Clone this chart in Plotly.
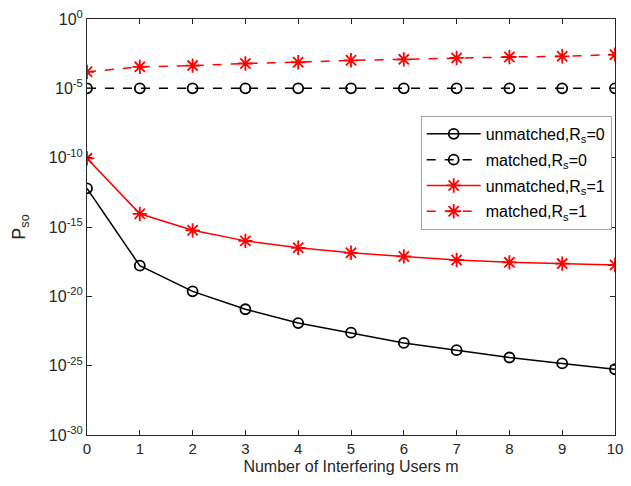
import plotly.graph_objects as go

m_users = [0, 1, 2, 3, 4, 5, 6, 7, 8, 9, 10]
# log10 of P_so
unmatched_rs0_exp = [-12.21, -17.79, -19.64, -20.93, -21.93, -22.62, -23.36, -23.88, -24.41, -24.84, -25.26]
matched_rs0_exp = [-5.0] * 11
unmatched_rs1_exp = [-10.05, -14.05, -15.24, -16.0, -16.5, -16.86, -17.12, -17.38, -17.55, -17.64, -17.74]
matched_rs1_exp = [-3.81, -3.45, -3.36, -3.21, -3.12, -2.98, -2.91, -2.81, -2.74, -2.69, -2.57]

names = ["unmatched,R<sub>s</sub>=0", "matched,R<sub>s</sub>=0",
         "unmatched,R<sub>s</sub>=1", "matched,R<sub>s</sub>=1"]
ytick_exps = [0, -5, -10, -15, -20, -25, -30]

fig = go.Figure()
series = [
    (unmatched_rs0_exp, "black", "solid", "circle-open", 10),
    (matched_rs0_exp, "black", "dash", "circle-open", 10),
    (unmatched_rs1_exp, "red", "solid", "asterisk-open", 12),
    (matched_rs1_exp, "red", "dash", "asterisk-open", 12),
]
for i, (name, (exps, col, dash, sym, sz)) in enumerate(zip(names, series)):
    fig.add_trace(go.Scatter(
        x=m_users, y=[10 ** e for e in exps], name=name, mode="lines+markers",
        legendgroup="g%d" % i,
        line=dict(color=col, dash=dash, width=1.5),
        marker=dict(symbol=sym, size=sz, color=col, line=dict(color=col, width=1.8)),
    ))

fig.update_layout(
    width=631, height=486,
    margin=dict(l=87, r=8, t=15, b=51),
    paper_bgcolor="white", plot_bgcolor="white",
    font=dict(family="Liberation Sans, Arial, sans-serif", size=15, color="#262626"),
    showlegend=True,
    legend=dict(x=0.632, y=0.767, xanchor="left", yanchor="top",
                bgcolor="white", bordercolor="#a0a0a0", borderwidth=1,
                font=dict(size=16, color="black"), tracegroupgap=2,
                itemwidth=54),
)
fig.update_xaxes(
    range=[0, 10], tickvals=m_users, showgrid=False, zeroline=False,
    showline=True, linecolor="#262626", linewidth=1, mirror="ticks",
    ticks="inside", ticklen=5, tickcolor="#262626",
    tickfont=dict(size=15),
    title=dict(text="Number of Interfering Users m", font=dict(size=16), standoff=4),
)
fig.update_yaxes(
    type="log", range=[-30, 0],
    tickvals=[10 ** e for e in ytick_exps],
    ticktext=["10<sup>%d</sup>" % e for e in ytick_exps],
    showgrid=False, zeroline=False,
    showline=True, linecolor="#262626", linewidth=1, mirror="ticks",
    ticks="inside", ticklen=5, tickcolor="#262626",
    tickfont=dict(size=16),
    title=dict(text="P<sub>so</sub>", font=dict(size=18), standoff=18),
)

fig.write_html("out.html", config={"displayModeBar": False},
               post_script="document.body.style.margin='0';")
